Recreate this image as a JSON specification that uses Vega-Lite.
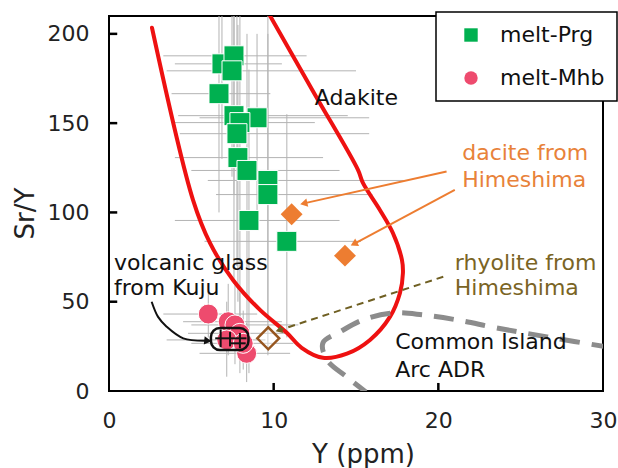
{
 "$schema": "https://vega.github.io/schema/vega-lite/v6.json",
 "width": 494,
 "height": 375,
 "autosize": {"type": "none"},
 "padding": {"left": 109, "top": 16, "right": 15, "bottom": 77},
 "config": {
  "font": "DejaVu Sans",
  "view": {"stroke": "#000", "strokeWidth": 2},
  "axis": {"domain": false, "grid": false, "ticks": false, "labelFont": "DejaVu Sans", "labelFontSize": 22, "labelColor": "#222", "titleFont": "DejaVu Sans", "titleFontSize": 26, "titleFontWeight": "normal", "titleColor": "#222", "labelFlush": false},
  "legend": {"strokeWidth": 1.5}
 },
 "datasets": {
  "pts": [
   {"s": "melt-Prg", "x": 6.86, "y": 183.2, "xlo": 4.0, "xhi": 10.5, "ylo": 130, "yhi": 215},
   {"s": "melt-Prg", "x": 7.59, "y": 187.7, "xlo": 3.3, "xhi": 12.0, "ylo": 110, "yhi": 215},
   {"s": "melt-Prg", "x": 7.47, "y": 179.3, "xlo": 3.5, "xhi": 15.0, "ylo": 120, "yhi": 215},
   {"s": "melt-Prg", "x": 6.68, "y": 166.5, "xlo": 3.8, "xhi": 9.8, "ylo": 100, "yhi": 215},
   {"s": "melt-Prg", "x": 7.59, "y": 154.2, "xlo": 4.2, "xhi": 14.5, "ylo": 60, "yhi": 215},
   {"s": "melt-Prg", "x": 8.99, "y": 153.0, "xlo": 5.5, "xhi": 15.8, "ylo": 90, "yhi": 200},
   {"s": "melt-Prg", "x": 7.95, "y": 150.3, "xlo": 4.0, "xhi": 12.5, "ylo": 40, "yhi": 215},
   {"s": "melt-Prg", "x": 7.77, "y": 144.1, "xlo": 4.3, "xhi": 15.8, "ylo": 70, "yhi": 210},
   {"s": "melt-Prg", "x": 7.83, "y": 130.7, "xlo": 4.0, "xhi": 13.0, "ylo": 50, "yhi": 205},
   {"s": "melt-Prg", "x": 8.38, "y": 123.5, "xlo": 5.0, "xhi": 14.0, "ylo": 30, "yhi": 200},
   {"s": "melt-Prg", "x": 9.65, "y": 117.9, "xlo": 6.0, "xhi": 17.9, "ylo": 40, "yhi": 215},
   {"s": "melt-Prg", "x": 9.65, "y": 110.0, "xlo": 6.5, "xhi": 16.0, "ylo": 20, "yhi": 200},
   {"s": "melt-Prg", "x": 8.5, "y": 95.5, "xlo": 4.0, "xhi": 14.0, "ylo": 10, "yhi": 180},
   {"s": "melt-Prg", "x": 10.8, "y": 83.8, "xlo": 5.8, "xhi": 15.3, "ylo": 30, "yhi": 155},
   {"s": "melt-Mhb", "x": 6.03, "y": 43.1, "xlo": 3.3, "xhi": 9.0, "ylo": 30, "yhi": 56},
   {"s": "melt-Mhb", "x": 7.24, "y": 38.8, "xlo": 4.5, "xhi": 10.5, "ylo": 20, "yhi": 60},
   {"s": "melt-Mhb", "x": 7.65, "y": 37.0, "xlo": 5.0, "xhi": 11.5, "ylo": 15, "yhi": 62},
   {"s": "melt-Mhb", "x": 7.95, "y": 32.3, "xlo": 4.8, "xhi": 10.8, "ylo": 10, "yhi": 55},
   {"s": "melt-Mhb", "x": 8.36, "y": 21.1, "xlo": 5.5, "xhi": 11.0, "ylo": 5, "yhi": 38},
   {"s": "melt-Mhb", "x": 7.15, "y": 28.6, "xlo": 3.5, "xhi": 9.5, "ylo": 8, "yhi": 50},
   {"s": "melt-Mhb", "x": 8.15, "y": 26.7, "xlo": 5.0, "xhi": 11.2, "ylo": 12, "yhi": 45}
  ],
  "xticks": [{"v": 10}, {"v": 20}],
  "yticks": [{"v": 50}, {"v": 100}, {"v": 150}, {"v": 200}],
  "adakite": [
   {"i": 0, "x": 2.61, "y": 203.4}, {"i": 1, "x": 5.10, "y": 107.0}, {"i": 2, "x": 6.13, "y": 82.9},
   {"i": 3, "x": 7.53, "y": 62.2}, {"i": 4, "x": 9.17, "y": 45.4}, {"i": 5, "x": 10.81, "y": 32.5},
   {"i": 6, "x": 11.7, "y": 24.2}, {"i": 7, "x": 12.99, "y": 18.6}, {"i": 8, "x": 14.45, "y": 20.9},
   {"i": 9, "x": 15.85, "y": 28.6}, {"i": 10, "x": 17.06, "y": 41.5}, {"i": 11, "x": 17.67, "y": 54.9},
   {"i": 12, "x": 17.85, "y": 66.1}, {"i": 13, "x": 17.79, "y": 73.4}, {"i": 14, "x": 17.24, "y": 88.5},
   {"i": 15, "x": 16.45, "y": 101.4}, {"i": 16, "x": 15.42, "y": 116.5}, {"i": 17, "x": 15.12, "y": 123.8},
   {"i": 18, "x": 12.45, "y": 166.9}, {"i": 19, "x": 9.78, "y": 210.1}
  ],
  "adr": [
   {"i": 0, "x": 30.5, "y": 24.3}, {"i": 1, "x": 26.6, "y": 30.3}, {"i": 2, "x": 23.56, "y": 35.3},
   {"i": 3, "x": 21.13, "y": 39.8}, {"i": 4, "x": 19.07, "y": 42.6}, {"i": 5, "x": 17.24, "y": 43.7},
   {"i": 6, "x": 15.42, "y": 39.8}, {"i": 7, "x": 14.03, "y": 33.1}, {"i": 8, "x": 12.99, "y": 26.9},
   {"i": 9, "x": 13.24, "y": 17.4}, {"i": 10, "x": 14.45, "y": 7.8}, {"i": 11, "x": 15.6, "y": -0.5}
  ],
  "dacite": [{"x": 11.09, "y": 99.0}, {"x": 14.33, "y": 75.8}],
  "rhyolite": [{"x": 9.67, "y": 29.5}],
  "glassbox": [{"x": 6.19, "x2": 8.47, "y": 23.0, "y2": 35.3}],
  "glasslines": [
   {"x": 6.45, "x2": 8.35, "y": 29.5, "y2": 29.5},
   {"x": 7.3, "x2": 8.3, "y": 26.7, "y2": 26.7},
   {"x": 6.78, "x2": 6.78, "y": 24.5, "y2": 34.5},
   {"x": 7.35, "x2": 7.35, "y": 25.0, "y2": 33.0},
   {"x": 7.95, "x2": 7.95, "y": 24.0, "y2": 32.5}
  ],
  "arrow1": [{"i": 0, "x": 20.5, "y": 122.9}, {"i": 1, "x": 11.9, "y": 105.2}],
  "arrow2": [{"i": 0, "x": 21.0, "y": 112.6}, {"i": 1, "x": 14.94, "y": 82.7}],
  "arrow3": [{"i": 0, "x": 20.3, "y": 64.0}, {"i": 1, "x": 10.38, "y": 34.2}],
  "arrow4": [{"i": 0, "x": 2.59, "y": 50.0}, {"i": 1, "x": 2.98, "y": 41.5}, {"i": 2, "x": 3.5, "y": 36.0}, {"i": 3, "x": 4.51, "y": 29.5}, {"i": 4, "x": 5.93, "y": 28.2}],
  "textBlack": [
   {"x": 12.5, "y": 164, "t": "Adakite"},
   {"x": 0.3, "y": 71.6, "t": "volcanic glass"},
   {"x": 0.3, "y": 57.5, "t": "from Kuju"},
   {"x": 17.38, "y": 27.6, "t": "Common Island"},
   {"x": 17.38, "y": 11.8, "t": "Arc ADR"}
  ],
  "textOrange": [
   {"x": 21.45, "y": 133.3, "t": "dacite from"},
   {"x": 21.45, "y": 118.2, "t": "Himeshima"}
  ],
  "textOlive": [
   {"x": 21.0, "y": 71.5, "t": "rhyolite from"},
   {"x": 21.0, "y": 57.7, "t": "Himeshima"}
  ]
 },
 "layer": [
  {
   "data": {"name": "pts"},
   "mark": {"type": "rule", "color": "#b3b3b3", "strokeWidth": 1, "clip": true},
   "encoding": {
    "x": {"field": "xlo", "type": "quantitative", "scale": {"domain": [0, 30], "nice": false, "zero": false},
          "axis": {"values": [0, 10, 20, 30], "title": "Y (ppm)", "labelPadding": 19, "titleX": 254, "titleY": 71, "titleBaseline": "alphabetic", "titleAlign": "center"}},
    "x2": {"field": "xhi"},
    "y": {"field": "y", "type": "quantitative", "scale": {"domain": [0, 210], "nice": false, "zero": false},
          "axis": {"values": [0, 50, 100, 150, 200], "title": "Sr/Y", "labelPadding": 20, "titleX": -84, "titleY": 197, "titleAngle": -90, "titleAlign": "center", "titleBaseline": "middle"}}
   }
  },
  {
   "data": {"name": "pts"},
   "mark": {"type": "rule", "color": "#b3b3b3", "strokeWidth": 1, "clip": true},
   "encoding": {
    "x": {"field": "x", "type": "quantitative"},
    "y": {"field": "ylo", "type": "quantitative"},
    "y2": {"field": "yhi"}
   }
  },
  {
   "data": {"name": "xticks"},
   "mark": {"type": "rule", "color": "#000000", "strokeWidth": 2.5},
   "encoding": {
    "x": {"field": "v", "type": "quantitative"},
    "y": {"datum": 0, "type": "quantitative"},
    "y2": {"datum": 4.5}
   }
  },
  {
   "data": {"name": "yticks"},
   "mark": {"type": "rule", "color": "#000000", "strokeWidth": 2.5},
   "encoding": {
    "y": {"field": "v", "type": "quantitative"},
    "x": {"datum": 0, "type": "quantitative"},
    "x2": {"datum": 0.5}
   }
  },
  {
   "data": {"name": "adakite"},
   "mark": {"type": "line", "color": "#ee1111", "strokeWidth": 4, "strokeCap": "round", "interpolate": "catmull-rom", "clip": true},
   "encoding": {
    "x": {"field": "x", "type": "quantitative"},
    "y": {"field": "y", "type": "quantitative"},
    "order": {"field": "i", "type": "quantitative"}
   }
  },
  {
   "data": {"name": "adr"},
   "mark": {"type": "line", "color": "#8c8c8c", "strokeWidth": 5, "strokeDash": [20, 12], "interpolate": "catmull-rom", "clip": true},
   "encoding": {
    "x": {"field": "x", "type": "quantitative"},
    "y": {"field": "y", "type": "quantitative"},
    "order": {"field": "i", "type": "quantitative"}
   }
  },
  {
   "data": {"name": "pts"},
   "mark": {"type": "point", "filled": true, "opacity": 1, "size": 400, "stroke": "#ffffff", "strokeWidth": 1},
   "encoding": {
    "x": {"field": "x", "type": "quantitative"},
    "y": {"field": "y", "type": "quantitative"},
    "color": {"field": "s", "type": "nominal", "scale": {"domain": ["melt-Prg", "melt-Mhb"], "range": ["#00b050", "#ee4b6e"]},
              "legend": {"title": null, "orient": "none", "legendX": 327, "legendY": -4, "padding": 12, "symbolOffset": 12, "labelOffset": 18, "rowPadding": 21, "symbolSize": 180, "labelFontSize": 22, "labelFont": "DejaVu Sans", "labelColor": "#111", "strokeColor": "#000", "fillColor": "#ffffff", "symbolStrokeWidth": 0}},
    "shape": {"field": "s", "type": "nominal", "scale": {"domain": ["melt-Prg", "melt-Mhb"], "range": ["square", "circle"]},
              "legend": {"title": null, "orient": "none", "legendX": 327, "legendY": -4, "padding": 12, "symbolOffset": 12, "labelOffset": 18, "rowPadding": 21, "symbolSize": 180, "labelFontSize": 22, "labelFont": "DejaVu Sans", "labelColor": "#111", "strokeColor": "#000", "fillColor": "#ffffff", "symbolStrokeWidth": 0}}
   }
  },
  {
   "data": {"name": "glassbox"},
   "mark": {"type": "rect", "fill": null, "fillOpacity": 0, "stroke": "#111", "strokeWidth": 2.5, "cornerRadius": 9},
   "encoding": {
    "x": {"field": "x", "type": "quantitative"},
    "x2": {"field": "x2"},
    "y": {"field": "y", "type": "quantitative"},
    "y2": {"field": "y2"}
   }
  },
  {
   "data": {"name": "glasslines"},
   "mark": {"type": "rule", "color": "#111", "strokeWidth": 2},
   "encoding": {
    "x": {"field": "x", "type": "quantitative"},
    "x2": {"field": "x2"},
    "y": {"field": "y", "type": "quantitative"},
    "y2": {"field": "y2"}
   }
  },
  {
   "data": {"name": "dacite"},
   "mark": {"type": "point", "shape": "diamond", "filled": true, "opacity": 1, "color": "#ed7d31", "size": 480},
   "encoding": {
    "x": {"field": "x", "type": "quantitative"},
    "y": {"field": "y", "type": "quantitative"}
   }
  },
  {
   "data": {"name": "rhyolite"},
   "mark": {"type": "point", "shape": "diamond", "filled": false, "opacity": 1, "fill": "#ffffff", "fillOpacity": 0.4, "stroke": "#96561f", "strokeWidth": 2.5, "size": 480},
   "encoding": {
    "x": {"field": "x", "type": "quantitative"},
    "y": {"field": "y", "type": "quantitative"}
   }
  },
  {
   "data": {"name": "arrow1"},
   "layer": [
    {"mark": {"type": "line", "color": "#ed7d31", "strokeWidth": 2},
     "encoding": {"x": {"field": "x", "type": "quantitative"}, "y": {"field": "y", "type": "quantitative"}, "order": {"field": "i", "type": "quantitative"}}},
    {"transform": [{"filter": "datum.i == 1"}],
     "mark": {"type": "point", "shape": "triangle", "filled": true, "opacity": 1, "color": "#ed7d31", "size": 70, "angle": 257},
     "encoding": {"x": {"field": "x", "type": "quantitative"}, "y": {"field": "y", "type": "quantitative"}}}
   ]
  },
  {
   "data": {"name": "arrow2"},
   "layer": [
    {"mark": {"type": "line", "color": "#ed7d31", "strokeWidth": 2},
     "encoding": {"x": {"field": "x", "type": "quantitative"}, "y": {"field": "y", "type": "quantitative"}, "order": {"field": "i", "type": "quantitative"}}},
    {"transform": [{"filter": "datum.i == 1"}],
     "mark": {"type": "point", "shape": "triangle", "filled": true, "opacity": 1, "color": "#ed7d31", "size": 70, "angle": 242},
     "encoding": {"x": {"field": "x", "type": "quantitative"}, "y": {"field": "y", "type": "quantitative"}}}
   ]
  },
  {
   "data": {"name": "arrow3"},
   "layer": [
    {"mark": {"type": "line", "color": "#6f5f22", "strokeWidth": 2, "strokeDash": [7, 5]},
     "encoding": {"x": {"field": "x", "type": "quantitative"}, "y": {"field": "y", "type": "quantitative"}, "order": {"field": "i", "type": "quantitative"}}},
    {"transform": [{"filter": "datum.i == 1"}],
     "mark": {"type": "point", "shape": "triangle", "filled": true, "opacity": 1, "color": "#6f5f22", "size": 60, "angle": 252},
     "encoding": {"x": {"field": "x", "type": "quantitative"}, "y": {"field": "y", "type": "quantitative"}}}
   ]
  },
  {
   "data": {"name": "arrow4"},
   "layer": [
    {"mark": {"type": "line", "color": "#111", "strokeWidth": 2, "interpolate": "catmull-rom"},
     "encoding": {"x": {"field": "x", "type": "quantitative"}, "y": {"field": "y", "type": "quantitative"}, "order": {"field": "i", "type": "quantitative"}}},
    {"transform": [{"filter": "datum.i == 4"}],
     "mark": {"type": "point", "shape": "triangle", "filled": true, "opacity": 1, "color": "#111", "size": 70, "angle": 96},
     "encoding": {"x": {"field": "x", "type": "quantitative"}, "y": {"field": "y", "type": "quantitative"}}}
   ]
  },
  {
   "data": {"name": "textBlack"},
   "mark": {"type": "text", "align": "left", "baseline": "middle", "font": "DejaVu Sans", "fontSize": 22, "color": "#111"},
   "encoding": {"x": {"field": "x", "type": "quantitative"}, "y": {"field": "y", "type": "quantitative"}, "text": {"field": "t"}}
  },
  {
   "data": {"name": "textOrange"},
   "mark": {"type": "text", "align": "left", "baseline": "middle", "font": "DejaVu Sans", "fontSize": 22, "color": "#e8823a"},
   "encoding": {"x": {"field": "x", "type": "quantitative"}, "y": {"field": "y", "type": "quantitative"}, "text": {"field": "t"}}
  },
  {
   "data": {"name": "textOlive"},
   "mark": {"type": "text", "align": "left", "baseline": "middle", "font": "DejaVu Sans", "fontSize": 22, "color": "#7a6424"},
   "encoding": {"x": {"field": "x", "type": "quantitative"}, "y": {"field": "y", "type": "quantitative"}, "text": {"field": "t"}}
  }
 ]
}
